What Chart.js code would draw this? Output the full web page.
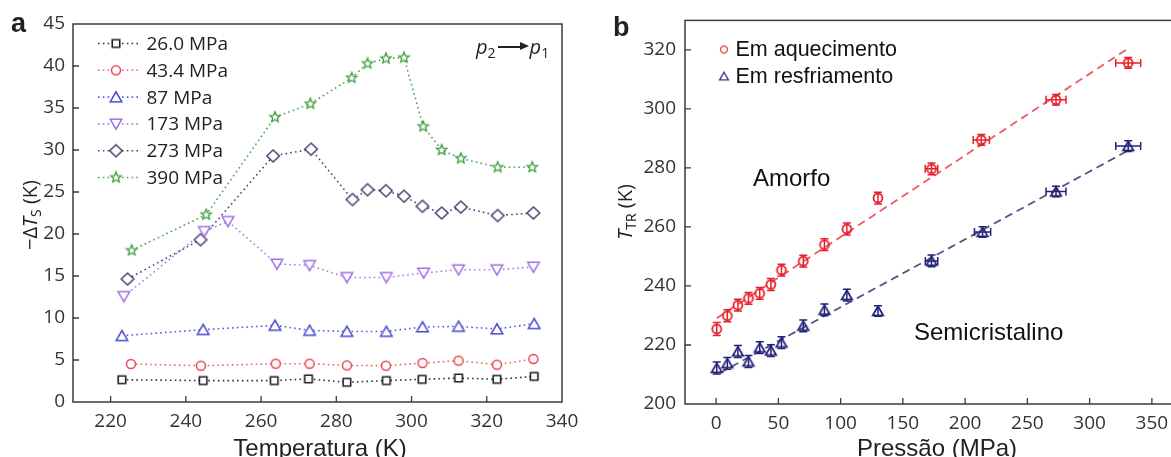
<!DOCTYPE html>
<html>
<head>
<meta charset="utf-8">
<script src="https://cdn.jsdelivr.net/npm/chart.js@4.4.1/dist/chart.umd.min.js"></script>
<style>
  html, body { margin: 0; padding: 0; overflow: hidden; background: #fff; width: 1171px; height: 457px; }
  canvas { position: absolute; top: 0; }
  #chartA { left: 0; }
  #chartB { left: 600px; }
  .lbl { position: absolute; white-space: nowrap; color: #222; }
  .panel { font: bold 27px 'Liberation Sans', Arial, sans-serif; line-height: 27px; }
  .xt { font: 24px 'Liberation Sans', Arial, sans-serif; line-height: 24px; transform: translateX(-50%); }
  .yt { font: 20px 'Open Sans', sans-serif; line-height: 20px; transform: translate(-50%, -50%) rotate(-90deg); }
  .yt sub, .pp sub { font-size: 14px; line-height: 0; vertical-align: -4px; font-style: normal; }
  .pp { font: italic 20px 'Open Sans', sans-serif; line-height: 20px; }
  .arr { display: inline-block; position: relative; width: 24px; height: 1.6px; background: #222; vertical-align: 6px; margin: 0 8px 0 2px; }
  .arr::after { content: ''; position: absolute; right: -7px; top: -4px; border-left: 9px solid #222; border-top: 4.8px solid transparent; border-bottom: 4.8px solid transparent; }
</style>
</head>
<body>
<canvas id="chartA" width="600" height="457"></canvas>
<canvas id="chartB" width="590" height="457"></canvas>

<div class="lbl panel" style="left:11px;top:10px">a</div>
<div class="lbl panel" style="left:613px;top:14px">b</div>
<div class="lbl yt" style="left:30px;top:215px">−Δ<i>T</i><sub>S</sub> (K)</div>
<div class="lbl yt" style="left:625px;top:212px"><i>T</i><sub>TR</sub> (K)</div>
<div class="lbl xt" style="left:320px;top:436px">Temperatura (K)</div>
<div class="lbl xt" style="left:937px;top:436px">Pressão (MPa)</div>
<div class="lbl pp" style="left:476px;top:37px">p<sub>2</sub><span class="arr"></span>p<sub>1</sub></div>

<script>
// ---- panel a: -ΔT_S vs temperature ----
const seriesA = ['26.0 MPa', '43.4 MPa', '87 MPa', '173 MPa', '273 MPa', '390 MPa'];
const tempA26 = [223.0, 244.6, 263.5, 272.6, 282.8, 293.3, 302.8, 312.5, 322.7, 332.6];
const valA26 = [2.65, 2.55, 2.55, 2.75, 2.35, 2.55, 2.7, 2.85, 2.7, 3.05];
const tempA43 = [225.4, 244.0, 263.9, 272.9, 282.8, 293.2, 302.9, 312.5, 322.7, 332.4];
const valA43 = [4.52, 4.32, 4.56, 4.56, 4.36, 4.32, 4.64, 4.92, 4.44, 5.12];
const tempA87 = [223.0, 244.6, 263.7, 272.9, 282.8, 293.3, 302.9, 312.5, 322.7, 332.6];
const valA87 = [7.89, 8.61, 9.12, 8.52, 8.40, 8.40, 8.93, 9.0, 8.69, 9.32];
const tempA173 = [223.5, 244.9, 251.2, 264.2, 272.9, 282.8, 293.3, 303.2, 312.5, 322.7, 332.4];
const valA173 = [12.57, 20.31, 21.5, 16.43, 16.26, 14.83, 14.83, 15.36, 15.75, 15.75, 16.07];
const tempA273 = [224.5, 243.9, 263.2, 273.3, 284.3, 288.3, 293.2, 298.0, 302.9, 308.0, 313.1, 322.9, 332.4];
const valA273 = [14.64, 19.32, 29.3, 30.1, 24.1, 25.27, 25.15, 24.5, 23.3, 22.5, 23.2, 22.2, 22.5];
const tempA390 = [225.6, 245.4, 263.7, 273.1, 284.1, 288.3, 293.2, 298.0, 303.1, 308.0, 313.1, 322.9, 332.1];
const valA390 = [18.05, 22.3, 33.9, 35.5, 38.6, 40.3, 40.9, 41.0, 32.8, 30.0, 29.0, 27.95, 27.95];
const xTicksA = [220, 240, 260, 280, 300, 320, 340];
const yTicksA = [0, 5, 10, 15, 20, 25, 30, 35, 40, 45];

// ---- panel b: T_TR vs pressure ----
const seriesB = ['Em aquecimento', 'Em resfriamento'];
const pHeat = [0.5, 9, 17.5, 26, 35, 44, 52.5, 70, 87, 105, 130, 173, 213, 273, 331];
const tHeat = [225.4, 229.9, 233.5, 235.8, 237.5, 240.5, 245.4, 248.4, 254.0, 259.3, 269.8, 279.7, 289.5, 303.1, 315.6];
const pHeatErr = [1, 1, 1, 1, 1, 1, 1.5, 2, 2, 2.5, 3, 5, 6.5, 8, 10];
const tHeatErr = [2.2, 2, 2, 2, 2, 2, 2, 2, 2, 2, 2, 2, 1.8, 1.8, 1.8];
const pCool = [0.5, 9, 17.5, 26, 35, 44, 52.5, 70, 87, 105, 130, 173, 214, 273, 331];
const tCool = [212.2, 213.8, 217.8, 214.4, 219.1, 218.1, 220.8, 226.5, 231.9, 236.9, 231.5, 248.5, 258.3, 272.0, 287.4];
const pCoolErr = [1, 1, 1, 1, 1, 1, 1.5, 2, 2, 2.5, 3, 5, 6.5, 8, 10];
const tCoolErr = [2, 2, 2, 2, 2, 2, 2, 2, 2, 2, 1.8, 2, 1.8, 1.8, 1.8];
const fitHeatP = [0.5, 330];
const fitHeatT = [229.1, 320.2];
const fitCoolP = [3, 330];
const fitCoolT = [210.5, 285.7];
const xTicksB = [0, 50, 100, 150, 200, 250, 300, 350];
const yTicksB = [200, 220, 240, 260, 280, 300, 320];

const pts = (xs, ys) => xs.map((x, i) => ({ x, y: ys[i] }));

// hollow marker sprites used as pointStyle and in the legends
function marker(shape, color, s, lw, fill) {
  const c = document.createElement('canvas');
  c.width = 20; c.height = 20;
  const g = c.getContext('2d');
  g.translate(10, 10);
  g.strokeStyle = color; g.lineWidth = lw; g.lineJoin = 'miter';
  g.beginPath();
  if (shape === 'square') g.rect(-s / 2, -s / 2, s, s);
  else if (shape === 'circle') g.arc(0, 0, s / 2, 0, Math.PI * 2);
  else if (shape === 'up') { g.moveTo(0, -s / 2); g.lineTo(s / 2 * 1.1, s / 2 * 0.9); g.lineTo(-s / 2 * 1.1, s / 2 * 0.9); g.closePath(); }
  else if (shape === 'down') { g.moveTo(0, s / 2); g.lineTo(s / 2 * 1.1, -s / 2 * 0.9); g.lineTo(-s / 2 * 1.1, -s / 2 * 0.9); g.closePath(); }
  else if (shape === 'diamond') { g.moveTo(0, -s / 2); g.lineTo(s / 2 * 1.05, 0); g.lineTo(0, s / 2); g.lineTo(-s / 2 * 1.05, 0); g.closePath(); }
  else if (shape === 'star') {
    for (let k = 0; k < 10; k++) {
      const r = k % 2 ? s * 0.22 : s / 2;
      const a = -Math.PI / 2 + k * Math.PI / 5;
      k ? g.lineTo(r * Math.cos(a), r * Math.sin(a)) : g.moveTo(r * Math.cos(a), r * Math.sin(a));
    }
    g.closePath();
  }
  if (fill) { g.fillStyle = fill; g.fill(); }
  g.stroke();
  return c;
}

const colorsA = ['#1e1e1e', '#e8454c', '#4848d2', '#a070e6', '#45406f', '#3f9e3f'];
const lineColorsA = ['#333333', '#ec6066', '#5a5ad8', '#a77de8', '#4a4474', '#4ea64e'];
const markersA = [
  marker('square', colorsA[0], 7.5, 1.6, '#fff'),
  marker('circle', colorsA[1], 9, 1.5, '#fff'),
  marker('up', colorsA[2], 10.5, 1.5, '#fff'),
  marker('down', colorsA[3], 10.5, 1.5, '#fff'),
  marker('diamond', colorsA[4], 12, 1.5, '#fff'),
  marker('star', colorsA[5], 11, 1.3, '#fff'),
];
const dataA = [
  pts(tempA26, valA26), pts(tempA43, valA43), pts(tempA87, valA87),
  pts(tempA173, valA173), pts(tempA273, valA273), pts(tempA390, valA390),
];

const tickFont = { family: "'Open Sans', sans-serif", size: 19 };

// frame round the plot area and ticks pointing inwards
const framePlugin = {
  id: 'frame',
  afterDraw(chart) {
    const { ctx, chartArea: a, scales: { x, y } } = chart;
    ctx.save();
    ctx.strokeStyle = '#3a3a3a';
    ctx.lineWidth = 1.5;
    ctx.strokeRect(a.left, a.top, a.right - a.left, a.bottom - a.top);
    ctx.lineWidth = 1.3;
    ctx.beginPath();
    x.ticks.forEach(t => {
      const px = x.getPixelForValue(t.value);
      if (px > a.left + 1 && px < a.right - 1) { ctx.moveTo(px, a.bottom); ctx.lineTo(px, a.bottom - 6); }
    });
    y.ticks.forEach(t => {
      const py = y.getPixelForValue(t.value);
      if (py > a.top + 1 && py < a.bottom - 1) { ctx.moveTo(a.left, py); ctx.lineTo(a.left + 6, py); }
    });
    ctx.stroke();
    ctx.restore();
  }
};

const legendA = {
  id: 'legendA',
  afterDraw(chart) {
    const ctx = chart.ctx;
    ctx.save();
    ctx.font = "19px 'Open Sans', sans-serif";
    ctx.textBaseline = 'middle';
    ctx.fillStyle = '#222';
    seriesA.forEach((name, i) => {
      const yy = 43.5 + i * 26.8;
      ctx.strokeStyle = lineColorsA[i];
      ctx.lineWidth = 1.6;
      ctx.setLineDash([1.6, 3.2]);
      ctx.beginPath(); ctx.moveTo(98, yy); ctx.lineTo(138, yy); ctx.stroke();
      ctx.setLineDash([]);
      ctx.drawImage(markersA[i], 116 - 10, yy - 10);
      ctx.fillText(name, 146.5, yy + 1);
    });
    ctx.restore();
  }
};

new Chart(document.getElementById('chartA'), {
  type: 'line',
  data: {
    datasets: seriesA.map((name, i) => ({
      label: name,
      data: dataA[i],
      borderColor: lineColorsA[i],
      borderWidth: 1.6,
      borderDash: [1.6, 3.2],
      pointStyle: markersA[i],
      pointRadius: 6,
      tension: 0,
    })),
  },
  options: {
    responsive: false,
    animation: false,
    layout: { padding: { left: 0, right: 38, top: 24, bottom: 0 } },
    plugins: { legend: { display: false }, tooltip: { enabled: false } },
    scales: {
      x: {
        type: 'linear', min: 210, max: 340,
        afterBuildTicks: s => { s.ticks = xTicksA.map(v => ({ value: v })); },
        afterFit: s => { s.height = 55; },
        grid: { display: false, drawTicks: false },
        border: { display: false },
        ticks: { font: tickFont, color: '#333', padding: 8, maxRotation: 0, autoSkip: false },
      },
      y: {
        type: 'linear', min: 0, max: 45,
        afterBuildTicks: s => { s.ticks = yTicksA.map(v => ({ value: v })); },
        afterFit: s => { s.width = 73; },
        grid: { display: false, drawTicks: false },
        border: { display: false },
        ticks: { font: tickFont, color: '#333', padding: 8, autoSkip: false },
      },
    },
  },
  plugins: [framePlugin, legendA],
});

// ---- panel b ----
const red = '#e6202a', navy = '#22227a';
const markersB = [marker('circle', red, 9, 1.8), marker('up', navy, 9.5, 1.8)];
const legendMarkersB = [marker('circle', '#e84a50', 7, 1.4), marker('up', '#3a3a88', 8, 1.4)];
const errB = [
  { p: pHeat, t: tHeat, ep: pHeatErr, et: tHeatErr, color: red },
  { p: pCool, t: tCool, ep: pCoolErr, et: tCoolErr, color: navy },
];

const errorBars = {
  id: 'errorBars',
  afterDatasetsDraw(chart) {
    const { ctx, scales: { x, y } } = chart;
    ctx.save();
    ctx.lineWidth = 1.5;
    errB.forEach(s => {
      ctx.strokeStyle = s.color;
      ctx.beginPath();
      s.p.forEach((p, i) => {
        const cx = x.getPixelForValue(p), cy = y.getPixelForValue(s.t[i]);
        const y0 = y.getPixelForValue(s.t[i] - s.et[i]), y1 = y.getPixelForValue(s.t[i] + s.et[i]);
        const x0 = x.getPixelForValue(p - s.ep[i]), x1 = x.getPixelForValue(p + s.ep[i]);
        ctx.moveTo(cx, y0); ctx.lineTo(cx, y1);
        ctx.moveTo(cx - 4, y0); ctx.lineTo(cx + 4, y0);
        ctx.moveTo(cx - 4, y1); ctx.lineTo(cx + 4, y1);
        if (x1 - x0 > 9) {
          ctx.moveTo(x0, cy); ctx.lineTo(x1, cy);
          ctx.moveTo(x0, cy - 4); ctx.lineTo(x0, cy + 4);
          ctx.moveTo(x1, cy - 4); ctx.lineTo(x1, cy + 4);
        }
      });
      ctx.stroke();
    });
    ctx.restore();
  }
};

const legendB = {
  id: 'legendB',
  afterDraw(chart) {
    const ctx = chart.ctx;
    ctx.save();
    ctx.font = "21.5px 'Liberation Sans', Arial, sans-serif";
    ctx.textBaseline = 'middle';
    ctx.fillStyle = '#111';
    seriesB.forEach((name, i) => {
      const yy = 49.5 + i * 26.8;
      ctx.drawImage(legendMarkersB[i], 124 - 10, yy - 10);
      ctx.fillText(name, 135.5, yy + 1);
    });
    ctx.font = "24px 'Liberation Sans', Arial, sans-serif";
    ctx.fillText('Amorfo', 153, 179);
    ctx.fillText('Semicristalino', 314, 333);
    ctx.restore();
  }
};

new Chart(document.getElementById('chartB'), {
  type: 'scatter',
  data: {
    datasets: [
      { label: seriesB[0], data: pts(pHeat, tHeat), pointStyle: markersB[0], pointRadius: 6, order: 1 },
      { label: seriesB[1], data: pts(pCool, tCool), pointStyle: markersB[1], pointRadius: 6, order: 1 },
      { type: 'line', data: pts(fitHeatP, fitHeatT), borderColor: '#ee5b66', borderWidth: 1.8, borderDash: [8, 5], pointRadius: 0, order: 2 },
      { type: 'line', data: pts(fitCoolP, fitCoolT), borderColor: '#555585', borderWidth: 1.8, borderDash: [8, 5], pointRadius: 0, order: 2 },
    ],
  },
  options: {
    responsive: false,
    animation: false,
    layout: { padding: { left: 0, right: 7, top: 19, bottom: 0 } },
    plugins: { legend: { display: false }, tooltip: { enabled: false } },
    scales: {
      x: {
        type: 'linear', min: -25, max: 375,
        afterBuildTicks: s => { s.ticks = xTicksB.map(v => ({ value: v })); },
        afterFit: s => { s.height = 53; },
        grid: { display: false, drawTicks: false },
        border: { display: false },
        ticks: { font: tickFont, color: '#333', padding: 8, maxRotation: 0, autoSkip: false },
      },
      y: {
        type: 'linear', min: 200, max: 330,
        afterBuildTicks: s => { s.ticks = yTicksB.map(v => ({ value: v })); },
        afterFit: s => { s.width = 85; },
        grid: { display: false, drawTicks: false },
        border: { display: false },
        ticks: { font: tickFont, color: '#333', padding: 9, autoSkip: false },
      },
    },
  },
  plugins: [framePlugin, errorBars, legendB],
});
</script>
</body>
</html>
